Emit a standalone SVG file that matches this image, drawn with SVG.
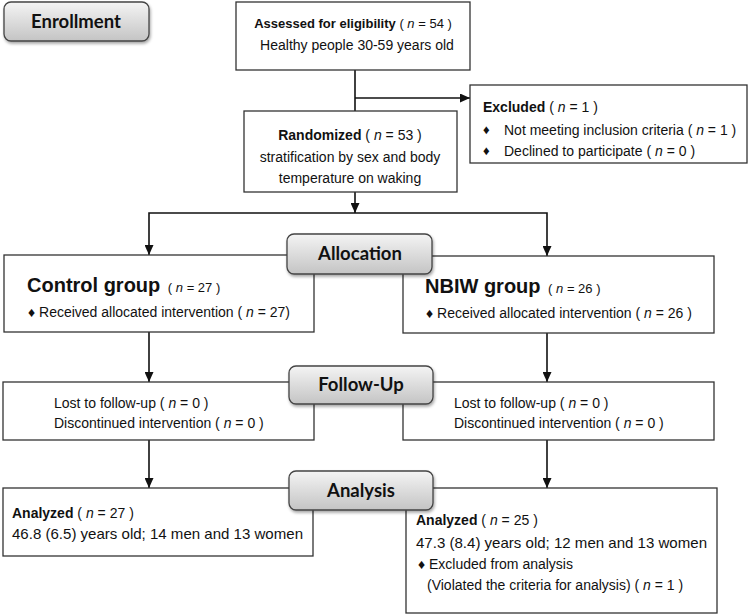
<svg xmlns="http://www.w3.org/2000/svg" width="749" height="614" viewBox="0 0 749 614">
<style>
.box{fill:#fff;stroke:#333;stroke-width:1.3}
.stage{fill:url(#g);stroke:#444;stroke-width:1.3;filter:url(#sh)}
.st{font-family:Lato,"Open Sans","Liberation Sans",sans-serif;font-weight:bold;font-size:18.5px;fill:#111;text-anchor:middle}
.t{font-family:"Liberation Sans",Arial,sans-serif;font-size:14px;font-weight:normal;fill:#111}
.s13{font-size:13px}
.b{font-weight:bold}
.i{font-style:italic}
.big{font-family:"Liberation Sans",Arial,sans-serif;font-size:20px;font-weight:bold;fill:#111}
.v{font-family:"Liberation Sans",Arial,sans-serif;font-size:15px;fill:#111}
.c{text-anchor:middle}
.ln{fill:none;stroke:#111;stroke-width:1.6}
</style>
<defs>
<linearGradient id="g" x1="0" y1="0" x2="0" y2="1">
<stop offset="0" stop-color="#f4f4f4"/>
<stop offset="1" stop-color="#c4c4c4"/>
</linearGradient>
<filter id="sh" x="-10%" y="-20%" width="125%" height="150%">
<feDropShadow dx="1" dy="2" stdDeviation="1.5" flood-color="#000" flood-opacity="0.35"/>
</filter>
<marker id="a" markerUnits="userSpaceOnUse" markerWidth="10" markerHeight="9" refX="10" refY="4.5" orient="auto">
<path d="M0,0 L10,4.5 L0,9 z" fill="#111"/>
</marker>
</defs>

<g id="connectors">
<path class="ln" d="M355,70 V111"/>
<path class="ln" d="M355,98 H470" marker-end="url(#a)"/>
<path class="ln" d="M355,192 V213" marker-end="url(#a)"/>
<path class="ln" d="M355,213 H149 V255" marker-end="url(#a)"/>
<path class="ln" d="M355,213 H547 V256" marker-end="url(#a)"/>
<path class="ln" d="M149,332 V382" marker-end="url(#a)"/>
<path class="ln" d="M547,333 V382" marker-end="url(#a)"/>
<path class="ln" d="M149,440 V488" marker-end="url(#a)"/>
<path class="ln" d="M547,440 V488" marker-end="url(#a)"/>
</g>

<g id="assessed">
<rect class="box" x="236" y="2" width="234" height="68"/>
<text class="t s13" x="353" y="28" text-anchor="middle"><tspan class="b">Assessed for eligibility</tspan> ( <tspan class="i">n</tspan> = 54 )</text>
<text class="t" x="357" y="50" text-anchor="middle">Healthy people 30-59 years old</text>
</g>

<g id="excluded">
<rect class="box" x="470" y="85" width="277" height="78"/>
<text class="t" x="483" y="112"><tspan class="b">Excluded</tspan>  ( <tspan class="i">n</tspan> = 1 )</text>
<text class="t s13" x="483" y="134">♦</text>
<text class="t" x="504" y="135">Not meeting inclusion criteria ( <tspan class="i">n</tspan> = 1 )</text>
<text class="t s13" x="483" y="155">♦</text>
<text class="t" x="504" y="156">Declined to participate ( <tspan class="i">n</tspan> = 0 )</text>
</g>

<g id="randomized">
<rect class="box" x="244" y="111" width="213" height="81"/>
<text class="t c" x="350" y="140"><tspan class="b">Randomized</tspan> ( <tspan class="i">n</tspan> = 53 )</text>
<text class="t c" x="350" y="162">stratification by sex and body</text>
<text class="t c" x="350" y="183">temperature on waking</text>
</g>

<g id="control">
<rect class="box" x="4" y="255" width="310" height="77"/>
<text class="big" x="27" y="292">Control group <tspan class="t s13" dx="2">( <tspan class="i">n</tspan> = 27 )</tspan></text>
<text class="t" x="28" y="317">♦ Received allocated intervention ( <tspan class="i">n</tspan> = 27)</text>
</g>

<g id="nbiw">
<rect class="box" x="403" y="256" width="311" height="77"/>
<text class="big" x="425" y="293">NBIW group <tspan class="t s13" dx="2">( <tspan class="i">n</tspan> = 26 )</tspan></text>
<text class="t" x="426" y="318">♦ Received allocated intervention ( <tspan class="i">n</tspan> = 26 )</text>
</g>

<g id="followup-control">
<rect class="box" x="3" y="382" width="311" height="58"/>
<text class="t" x="54" y="408">Lost to follow-up ( <tspan class="i">n</tspan> = 0 )</text>
<text class="t" x="54" y="428">Discontinued intervention ( <tspan class="i">n</tspan> = 0 )</text>
</g>

<g id="followup-nbiw">
<rect class="box" x="403" y="382" width="311" height="58"/>
<text class="t" x="454" y="408">Lost to follow-up ( <tspan class="i">n</tspan> = 0 )</text>
<text class="t" x="454" y="428">Discontinued intervention ( <tspan class="i">n</tspan> = 0 )</text>
</g>

<g id="analysis-control">
<rect class="box" x="3" y="488" width="310" height="68"/>
<text class="t" x="12" y="518"><tspan class="b">Analyzed</tspan>   ( <tspan class="i">n</tspan> =  27 )</text>
<text class="v" x="12" y="539" textLength="291" lengthAdjust="spacingAndGlyphs">46.8 (6.5) years old; 14 men and 13 women</text>
</g>

<g id="analysis-nbiw">
<rect class="box" x="406" y="488" width="311" height="125"/>
<text class="t" x="416" y="525"><tspan class="b">Analyzed</tspan>   ( <tspan class="i">n</tspan> = 25 )</text>
<text class="v" x="416" y="548" textLength="291" lengthAdjust="spacingAndGlyphs">47.3 (8.4) years old; 12 men and 13 women</text>
<text class="t" x="418" y="569" font-size="12">♦ Excluded from analysis</text>
<text class="t" x="427" y="590" font-size="11.7">(Violated the criteria for analysis) ( <tspan class="i">n</tspan> = 1 )</text>
</g>

<g id="enrollment">
<rect class="stage" x="4" y="2" width="145" height="39" rx="7"/>
<text class="st" x="76" y="28">Enrollment</text>
</g>
<g id="allocation">
<rect class="stage" x="287" y="234" width="145" height="40" rx="7"/>
<text class="st" x="360" y="260">Allocation</text>
</g>
<g id="followup">
<rect class="stage" x="289" y="366" width="144" height="38" rx="7"/>
<text class="st" x="361" y="391">Follow-Up</text>
</g>
<g id="analysis">
<rect class="stage" x="289" y="471" width="144" height="39" rx="7"/>
<text class="st" x="361" y="497">Analysis</text>
</g>
</svg>
